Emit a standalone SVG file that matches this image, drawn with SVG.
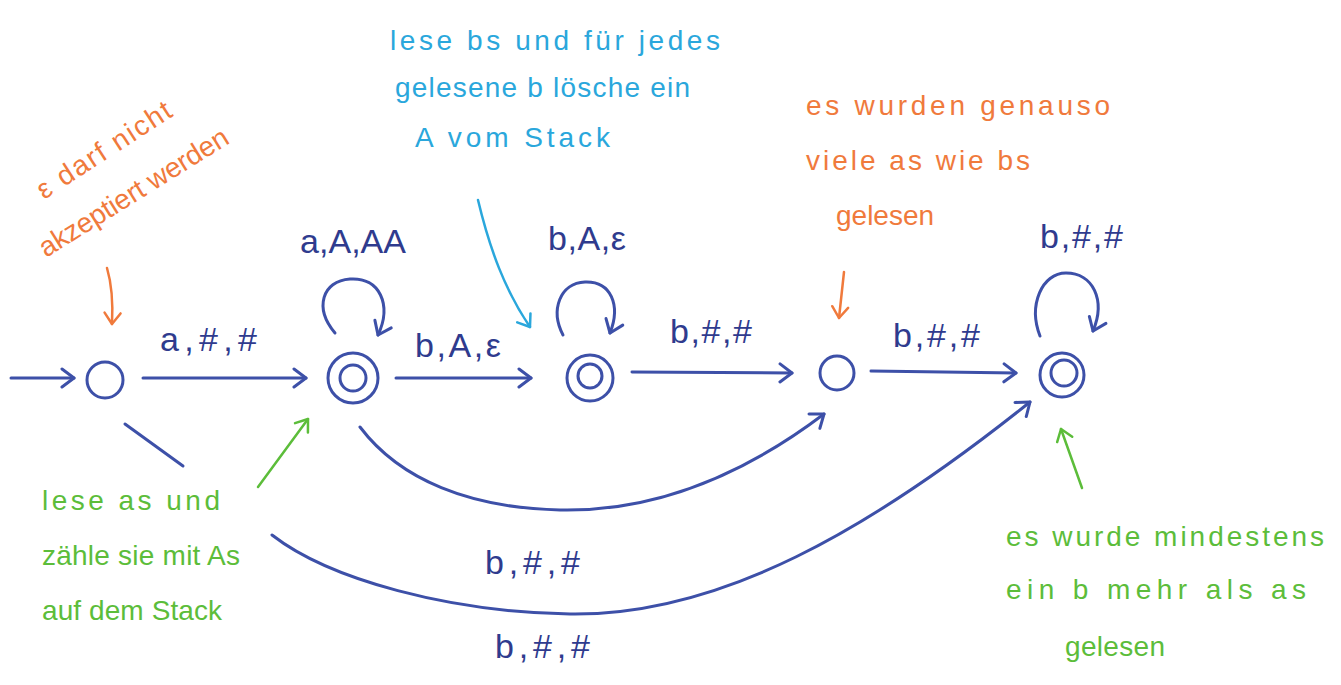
<svg xmlns="http://www.w3.org/2000/svg" width="1341" height="685" viewBox="0 0 1341 685">
  <style>
    .edge { fill: none; stroke: #3d50a8; stroke-width: 3; stroke-linecap: round; stroke-linejoin: round; }
    .state { fill: none; stroke: #3d50a8; stroke-width: 3; }
    .lbl { font-family: "Liberation Sans", Arial, sans-serif; font-size: 34px; fill: #2f3b8e; }
    .note { font-family: "Liberation Sans", Arial, sans-serif; font-size: 28px; }
    .orange { fill: #f07a3c; }
    .cyan { fill: #2aa7dc; }
    .green { fill: #5cbd3a; }
    .pO { fill: none; stroke: #f07a3c; stroke-width: 2.5; stroke-linecap: round; }
    .pC { fill: none; stroke: #2aa7dc; stroke-width: 2.5; stroke-linecap: round; }
    .pG { fill: none; stroke: #5cbd3a; stroke-width: 2.5; stroke-linecap: round; }
  </style>
  <defs>
    <marker id="hB" markerUnits="userSpaceOnUse" markerWidth="24" markerHeight="24" refX="14" refY="12" orient="auto" viewBox="0 0 24 24">
      <path d="M2,3 L14,12 L2,21" fill="none" stroke="#3d50a8" stroke-width="3" stroke-linecap="round" stroke-linejoin="round"/>
    </marker>
    <marker id="hO" markerUnits="userSpaceOnUse" markerWidth="24" markerHeight="24" refX="14" refY="12" orient="auto" viewBox="0 0 24 24">
      <path d="M3,4 L14,12 L3,20" fill="none" stroke="#f07a3c" stroke-width="2.5" stroke-linecap="round" stroke-linejoin="round"/>
    </marker>
    <marker id="hC" markerUnits="userSpaceOnUse" markerWidth="24" markerHeight="24" refX="14" refY="12" orient="auto" viewBox="0 0 24 24">
      <path d="M3,4 L14,12 L3,20" fill="none" stroke="#2aa7dc" stroke-width="2.5" stroke-linecap="round" stroke-linejoin="round"/>
    </marker>
    <marker id="hG" markerUnits="userSpaceOnUse" markerWidth="24" markerHeight="24" refX="14" refY="12" orient="auto" viewBox="0 0 24 24">
      <path d="M3,4 L14,12 L3,20" fill="none" stroke="#5cbd3a" stroke-width="2.5" stroke-linecap="round" stroke-linejoin="round"/>
    </marker>
  </defs>

  <rect width="1341" height="685" fill="#ffffff"/>

  <!-- states -->
  <g id="q0"><circle class="state" cx="105" cy="380" r="18"/></g>
  <g id="q1"><circle class="state" cx="353" cy="378" r="25"/><circle class="state" cx="353" cy="378" r="13"/></g>
  <g id="q2"><circle class="state" cx="590" cy="378" r="23"/><circle class="state" cx="590" cy="376" r="12"/></g>
  <g id="q3"><circle class="state" cx="837" cy="373" r="17"/></g>
  <g id="q4"><circle class="state" cx="1062" cy="375" r="22"/><circle class="state" cx="1064" cy="373" r="13"/></g>

  <!-- transitions -->
  <g id="connectors">
    <path class="edge" d="M11,378 L74,378" marker-end="url(#hB)"/>
    <path class="edge" d="M143,378 L306,378" marker-end="url(#hB)"/>
    <path class="edge" d="M335,333 C314,308 322,281 350,279 C380,277 392,305 378,335" marker-end="url(#hB)"/>
    <path class="edge" d="M396,378 L531,378" marker-end="url(#hB)"/>
    <path class="edge" d="M563,335 C550,310 560,283 585,282 C611,281 621,305 610,333" marker-end="url(#hB)"/>
    <path class="edge" d="M632,372 L792,373" marker-end="url(#hB)"/>
    <path class="edge" d="M871,371 L1016,373" marker-end="url(#hB)"/>
    <path class="edge" d="M1040,336 C1028,305 1042,273 1066,273 C1093,273 1106,300 1093,331" marker-end="url(#hB)"/>
    <path class="edge" d="M360,427 C400,480 470,508 560,510 C660,512 750,470 824,414" marker-end="url(#hB)"/>
    <path class="edge" d="M125,424 L183,466"/>
    <path class="edge" d="M272,535 C330,580 450,612 570,614 C720,616 870,530 1030,402" marker-end="url(#hB)"/>
  </g>

  <!-- transition labels -->
  <g id="labels">
    <text class="lbl" x="160" y="351" textLength="97" lengthAdjust="spacing">a,#,#</text>
    <text class="lbl" x="300" y="253" textLength="106" lengthAdjust="spacing">a,A,AA</text>
    <text class="lbl" x="415" y="357" textLength="86" lengthAdjust="spacing">b,A,ε</text>
    <text class="lbl" x="548" y="250" textLength="78" lengthAdjust="spacing">b,A,ε</text>
    <text class="lbl" x="670" y="343" textLength="82" lengthAdjust="spacing">b,#,#</text>
    <text class="lbl" x="893" y="347" textLength="87" lengthAdjust="spacing">b,#,#</text>
    <text class="lbl" x="1040" y="248" textLength="83" lengthAdjust="spacing">b,#,#</text>
    <text class="lbl" x="485" y="574" textLength="95" lengthAdjust="spacing">b,#,#</text>
    <text class="lbl" x="495" y="658" textLength="95" lengthAdjust="spacing">b,#,#</text>
  </g>

  <!-- annotations -->
  <g id="note-start">
    <text class="note orange" transform="translate(44,200) rotate(-33)" textLength="155" lengthAdjust="spacing">ε darf nicht</text>
    <text class="note orange" transform="translate(46,258) rotate(-32)" textLength="218" lengthAdjust="spacing">akzeptiert werden</text>
    <path class="pO" d="M107,268 C112,285 113,305 112,324" marker-end="url(#hO)"/>
  </g>
  <g id="note-b-loop">
    <text class="note cyan" x="390" y="50" textLength="330" lengthAdjust="spacing">lese bs und für jedes</text>
    <text class="note cyan" x="395" y="97" textLength="295" lengthAdjust="spacing">gelesene b lösche ein</text>
    <text class="note cyan" x="415" y="147" textLength="195" lengthAdjust="spacing">A vom Stack</text>
    <path class="pC" d="M478,200 C490,250 505,290 530,327" marker-end="url(#hC)"/>
  </g>
  <g id="note-equal">
    <text class="note orange" x="806" y="115" textLength="304" lengthAdjust="spacing">es wurden genauso</text>
    <text class="note orange" x="806" y="170" textLength="224" lengthAdjust="spacing">viele as wie bs</text>
    <text class="note orange" x="836" y="225">gelesen</text>
    <path class="pO" d="M844,272 L839,318" marker-end="url(#hO)"/>
  </g>
  <g id="note-count">
    <text class="note green" x="42" y="510" textLength="178" lengthAdjust="spacing">lese as und</text>
    <text class="note green" x="42" y="565" textLength="198" lengthAdjust="spacing">zähle sie mit As</text>
    <text class="note green" x="42" y="620" textLength="180" lengthAdjust="spacing">auf dem Stack</text>
    <path class="pG" d="M258,487 L308,419" marker-end="url(#hG)"/>
  </g>
  <g id="note-more">
    <text class="note green" x="1006" y="546" textLength="318" lengthAdjust="spacing">es wurde mindestens</text>
    <text class="note green" x="1006" y="599" textLength="300" lengthAdjust="spacing">ein b mehr als as</text>
    <text class="note green" x="1065" y="656" textLength="100" lengthAdjust="spacing">gelesen</text>
    <path class="pG" d="M1082,488 L1061,429" marker-end="url(#hG)"/>
  </g>
</svg>
